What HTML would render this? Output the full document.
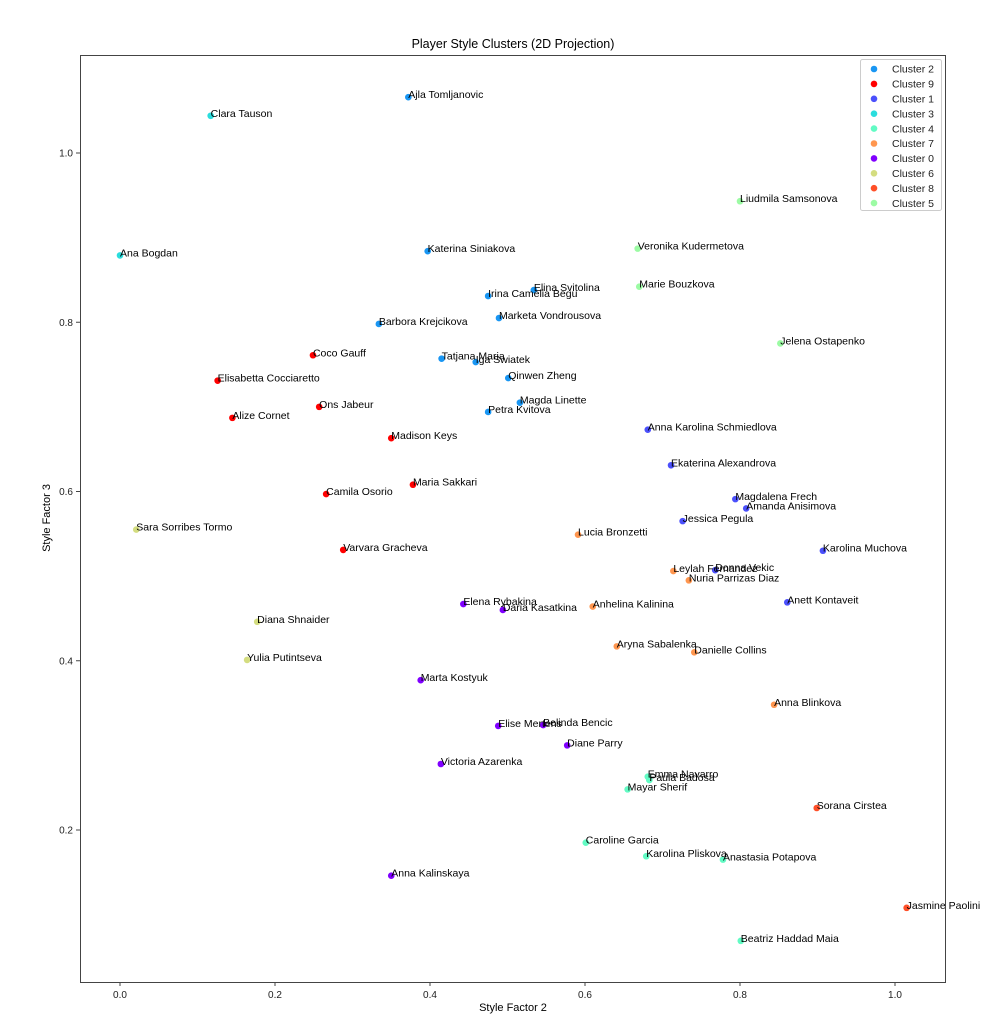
<!DOCTYPE html>
<html><head><meta charset="utf-8"><style>
body{margin:0;background:#fff;}
svg text{font-family:"Liberation Sans","DejaVu Sans",sans-serif;}
</style></head><body>
<svg id="chart" width="999" height="1024" xmlns="http://www.w3.org/2000/svg">
<rect width="999" height="1024" fill="#fff"/>
<text x="513" y="48" text-anchor="middle" font-size="12.5" fill="#000">Player Style Clusters (2D Projection)</text>
<g id="marks"></g>
<g id="axes"></g>
<rect x="80.5" y="55.5" width="865" height="927" fill="none" stroke="#444" stroke-width="1"/>
<text x="513" y="1011" text-anchor="middle" font-size="11" fill="#000">Style Factor 2</text>
<text transform="translate(50,518) rotate(-90)" text-anchor="middle" font-size="11" fill="#000">Style Factor 3</text>
<g id="legend"></g>
</svg>
<script>
const clusterOrder=[2,9,1,3,4,7,0,6,8,5];
const clusterColors=["#8000ff","#4b50fc","#1996f3","#2adddd","#62fbc4","#9cfba4","#d4dd80","#ff964f","#ff4f28","#ff0000"];
const names=["Ajla Tomljanovic","Katerina Siniakova","Irina Camelia Begu","Elina Svitolina","Marketa Vondrousova","Barbora Krejcikova","Tatjana Maria","Iga Swiatek","Qinwen Zheng","Magda Linette","Petra Kvitova",
"Clara Tauson","Ana Bogdan",
"Coco Gauff","Elisabetta Cocciaretto","Ons Jabeur","Alize Cornet","Madison Keys","Maria Sakkari","Camila Osorio","Varvara Gracheva",
"Anna Karolina Schmiedlova","Ekaterina Alexandrova","Magdalena Frech","Amanda Anisimova","Jessica Pegula","Karolina Muchova","Donna Vekic","Anett Kontaveit",
"Liudmila Samsonova","Veronika Kudermetova","Marie Bouzkova","Jelena Ostapenko",
"Lucia Bronzetti","Leylah Fernandez","Nuria Parrizas Diaz","Anhelina Kalinina","Aryna Sabalenka","Danielle Collins","Anna Blinkova",
"Elena Rybakina","Daria Kasatkina","Marta Kostyuk","Elise Mertens","Belinda Bencic","Diane Parry","Victoria Azarenka","Anna Kalinskaya",
"Sara Sorribes Tormo","Diana Shnaider","Yulia Putintseva",
"Emma Navarro","Paula Badosa","Mayar Sherif","Caroline Garcia","Karolina Pliskova","Anastasia Potapova","Beatriz Haddad Maia",
"Sorana Cirstea","Jasmine Paolini"];
const xVals=[0.372,0.397,0.475,0.534,0.489,0.334,0.415,0.459,0.501,0.516,0.475,
0.117,0.0,
0.249,0.126,0.257,0.145,0.350,0.378,0.266,0.288,
0.681,0.711,0.794,0.808,0.726,0.907,0.768,0.861,
0.800,0.668,0.670,0.852,
0.591,0.714,0.734,0.610,0.641,0.741,0.844,
0.443,0.494,0.388,0.488,0.546,0.577,0.414,0.350,
0.021,0.177,0.164,
0.681,0.683,0.655,0.601,0.679,0.778,0.801,
0.899,1.015];
const yVals=[1.066,0.884,0.831,0.838,0.805,0.798,0.757,0.753,0.734,0.705,0.694,
1.044,0.879,
0.761,0.731,0.700,0.687,0.663,0.608,0.597,0.531,
0.673,0.631,0.591,0.580,0.565,0.530,0.507,0.469,
0.943,0.887,0.842,0.775,
0.549,0.506,0.495,0.464,0.417,0.410,0.348,
0.467,0.460,0.377,0.323,0.324,0.300,0.278,0.146,
0.555,0.446,0.401,
0.263,0.259,0.248,0.185,0.169,0.165,0.069,
0.226,0.108];
const clusters=[2,2,2,2,2,2,2,2,2,2,2, 3,3, 9,9,9,9,9,9,9,9, 1,1,1,1,1,1,1,1, 5,5,5,5, 7,7,7,7,7,7,7, 0,0,0,0,0,0,0,0, 6,6,6, 4,4,4,4,4,4,4, 8,8];
const xTicks=[0.0,0.2,0.4,0.6,0.8,1.0];
const yTicks=[0.2,0.4,0.6,0.8,1.0];
const xTickLabels=["0.0","0.2","0.4","0.6","0.8","1.0"];
const yTickLabels=["0.2","0.4","0.6","0.8","1.0"];

const NS="http://www.w3.org/2000/svg";
function sx(v){return 120+v*775;}
function sy(v){return 830-(v-0.2)*846.25;}
function mk(tag,attrs,parent){const e=document.createElementNS(NS,tag);for(const k in attrs)e.setAttribute(k,attrs[k]);parent.appendChild(e);return e;}
const marks=document.getElementById('marks');
for(let i=0;i<names.length;i++){
  const c=mk('circle',{cx:sx(xVals[i]),cy:sy(yVals[i]),r:3.3,fill:clusterColors[clusters[i]]},marks);
  
  
}
for(let i=0;i<names.length;i++){
  const t=mk('text',{x:sx(xVals[i]),y:sy(yVals[i])+1,'font-size':10.5,fill:'#000'},marks);
  t.textContent=names[i];
  
  
}
const axes=document.getElementById('axes');
xTicks.forEach((v,i)=>{
  const l=mk('line',{x1:sx(v),x2:sx(v),y1:982,y2:986,stroke:'#444'},axes);
  
  
  const t=mk('text',{x:sx(v),y:998,'text-anchor':'middle','font-size':10,fill:'#222'},axes);
  t.textContent=xTickLabels[i];
  
  
});
yTicks.forEach((v,i)=>{
  const l=mk('line',{x1:76,x2:80,y1:sy(v),y2:sy(v),stroke:'#444'},axes);
  
  
  const t=mk('text',{x:73,y:sy(v)+3.5,'text-anchor':'end','font-size':10,fill:'#222'},axes);
  t.textContent=yTickLabels[i];
  
  
});
const lg=document.getElementById('legend');
const box=mk('rect',{x:860.5,y:59.5,width:81,height:151,rx:2,fill:'#fff','fill-opacity':0.8,stroke:'#ccc'},lg);


clusterOrder.forEach((c,i)=>{
  const y=69+i*14.9;
  const d=mk('circle',{cx:874,cy:y,r:3.3,fill:clusterColors[c]},lg);
  
  
  const t=mk('text',{x:892,y:y+3.7,'font-size':10.5,fill:'#222'},lg);
  t.textContent='Cluster '+c;
  
  
});
</script>
</body></html>
